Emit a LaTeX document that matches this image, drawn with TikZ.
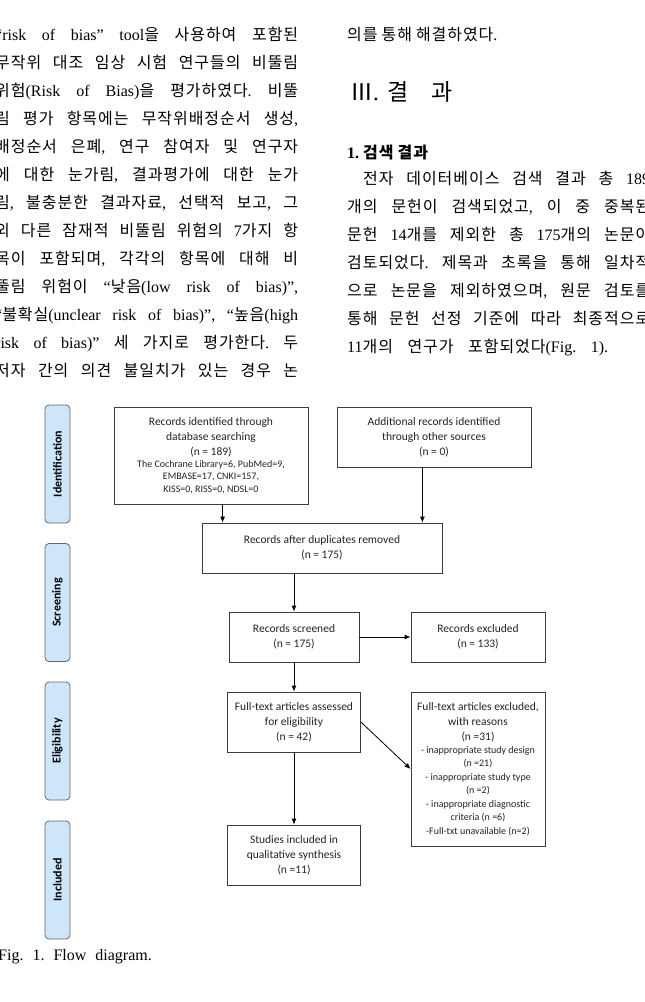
\documentclass[tikz,border=0pt]{standalone}
\usepackage{fontspec}
\setmainfont{Liberation Serif}
\setsansfont{Carlito}
\newfontfamily\kr[LetterSpace=6]{Noto Sans CJK KR}
\newfontfamily\lat{Liberation Serif}
\usetikzlibrary{arrows.meta}
\frenchspacing

% 한글은 자동으로 \kr, 나머지는 \lat
\XeTeXinterchartokenstate=1
\newXeTeXintercharclass\hangulclass
\count255="AC00
\loop \XeTeXcharclass\count255=\hangulclass \ifnum\count255<"D7A3 \advance\count255 by 1 \repeat
\XeTeXcharclass"2162=\hangulclass
\XeTeXcharclass"201C=0 \XeTeXcharclass"201D=0
\XeTeXinterchartoks 0 \hangulclass = {\kr}
\XeTeXinterchartoks 4095 \hangulclass = {\kr}
\XeTeXinterchartoks \hangulclass 0 = {\lat}
\XeTeXinterchartoks \hangulclass 4095 = {\lat}

\definecolor{phasefill}{RGB}{206,230,250}
\definecolor{phaseline}{RGB}{95,105,115}
\definecolor{boxline}{RGB}{60,60,60}
\definecolor{textgray}{RGB}{35,35,35}

\newcommand{\sm}{\fontsize{10}{12.5}\selectfont}

\tikzset{
  txt/.style={anchor=base west, inner sep=0pt, font=\fontsize{16}{28}\selectfont},
  phase/.style={draw=phaseline, fill=phasefill, rounded corners=4pt, line width=0.8pt,
    minimum width=118pt, minimum height=25pt, inner sep=0pt, rotate=90,
    text=black, font=\sffamily\bfseries\fontsize{12}{14}\selectfont},
  box/.style={draw=boxline, line width=0.8pt, align=center, inner sep=0pt,
    text=textgray, font=\sffamily\fontsize{11.5}{15}\selectfont},
  arr/.style={-{Latex[length=6pt,width=5pt]}, line width=0.8pt}
}

\begin{document}
\begin{tikzpicture}[x=1pt, y=-1pt]
\useasboundingbox (0,0) rectangle (645,1002);

% 왼쪽 단
\foreach \row [count=\i] in {
  {“risk of bias” tool을 사용하여 포함된},
  {무작위 대조 임상 시험 연구들의 비뚤림},
  {위험(Risk of Bias)을 평가하였다. 비뚤},
  {림 평가 항목에는 무작위배정순서 생성,},
  {배정순서 은폐, 연구 참여자 및 연구자},
  {에 대한 눈가림, 결과평가에 대한 눈가},
  {림, 불충분한 결과자료, 선택적 보고, 그},
  {외 다른 잠재적 비뚤림 위험의 7가지 항},
  {목이 포함되며, 각각의 항목에 대해 비},
  {뚤림 위험이 “낮음(low risk of bias)”,},
  {“불확실(unclear risk of bias)”, “높음(high},
  {risk of bias)” 세 가지로 평가한다. 두},
  {저자 간의 의견 불일치가 있는 경우 논}}
  \node[txt] (left\i) at (-5, 12+28*\i) {\makebox[303pt][s]{\row}};

% 오른쪽 단
\node[txt] (rtop) at (347,40) {의를 통해 해결하였다.};
\node[txt, font=\fontsize{23}{28}\selectfont] (section) at (350,100) {Ⅲ.\hspace{9pt}결\hspace{22pt}과};
\node[txt, font=\bfseries\fontsize{16}{18}\selectfont] (subsection) at (347,158) {1. 검색 결과};
\foreach \row [count=\i] in {
  {\hspace*{16pt}전자 데이터베이스 검색 결과 총 189},
  {개의 문헌이 검색되었고, 이 중 중복된},
  {문헌 14개를 제외한 총 175개의 논문이},
  {검토되었다. 제목과 초록을 통해 일차적},
  {으로 논문을 제외하였으며, 원문 검토를},
  {통해 문헌 선정 기준에 따라 최종적으로}}
  \node[txt] (right\i) at (347, 156+28*\i) {\makebox[303pt][s]{\row}};
\node[txt] (rlast) at (347,352) {\makebox[261pt][s]{11개의 연구가 포함되었다(Fig. 1).}};

% 단계 표시
\foreach \name/\y in {Identification/464, Screening/602.5, Eligibility/741, Included/880}
  \node[phase] (\name) at (57.5,\y) {\name};

% 흐름도 상자
\node[box, minimum width=194pt, minimum height=97pt] (search) at (211,455.5)
  {Records identified through\\database searching\\(n = 189)\\[-3pt]
   \sm The Cochrane Library=6, PubMed=9,\\[-2.5pt]
   \sm EMBASE=17, CNKI=157,\\[-2.5pt]
   \sm KISS=0, RISS=0, NDSL=0};
\node[box, minimum width=194pt, minimum height=60pt] (other) at (434,437)
  {Additional records identified\\through other sources\\(n = 0)};
\node[box, minimum width=240pt, minimum height=50pt] (dedup) at (322,548)
  {Records after duplicates removed\\(n = 175)};
\node[box, minimum width=130pt, minimum height=50pt] (screened) at (294,637)
  {Records screened\\(n = 175)};
\node[box, minimum width=134pt, minimum height=50pt] (excluded) at (478,637)
  {Records excluded\\(n = 133)};
\node[box, minimum width=133pt, minimum height=60pt] (fulltext) at (294,722)
  {Full-text articles assessed\\for eligibility\\(n = 42)};
\node[box, minimum width=134pt, minimum height=154pt] (reasons) at (478,769)
  {Full-text articles excluded,\\with reasons\\(n =31)\\[-2pt]
   \sm - inappropriate study design\\[-1.5pt]
   \sm (n =21)\\[-1.5pt]
   \sm - inappropriate study type\\[-1.5pt]
   \sm (n =2)\\[-1.5pt]
   \sm - inappropriate diagnostic\\[-1.5pt]
   \sm criteria (n =6)\\[-1.5pt]
   \sm -Full-txt unavailable (n=2)};
\node[box, minimum width=133pt, minimum height=60pt] (included) at (294,855)
  {Studies included in\\qualitative synthesis\\(n =11)};

% 화살표
\coordinate (inL) at ([xshift=21pt]dedup.north west);
\coordinate (inR) at ([xshift=-20pt]dedup.north east);
\draw[arr] (search.south -| inL) -- (inL);
\draw[arr] (other.south -| inR) -- (inR);
\draw[arr] (dedup.south -| screened.north) -- (screened.north);
\draw[arr] (screened) -- (excluded);
\draw[arr] (screened) -- (fulltext);
\draw[arr] (fulltext.east) -- (reasons.west);
\draw[arr] (fulltext) -- (included);

% 그림 설명
\node[txt, font=\fontsize{16}{18}\selectfont] (caption) at (-2,960)
  {\spaceskip=9pt Fig. 1. Flow diagram.};
\end{tikzpicture}
\end{document}
